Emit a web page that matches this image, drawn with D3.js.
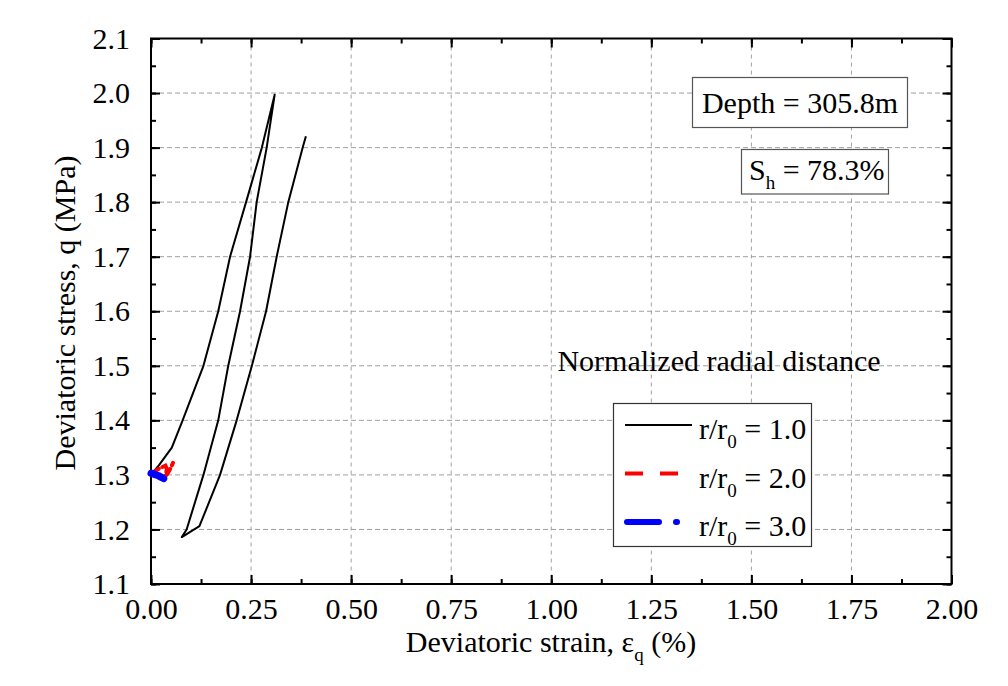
<!DOCTYPE html>
<html><head><meta charset="utf-8">
<script src="https://cdn.jsdelivr.net/npm/d3@7"></script>
<style>body{margin:0;background:#fff}svg{display:block}text{font-family:"Liberation Serif","Times New Roman",serif;fill:#000}</style>
</head><body><svg id="c" width="1008" height="686"></svg>
<script>
const xTicks = [0.00,0.25,0.50,0.75,1.00,1.25,1.50,1.75,2.00];
const yTicks = [1.1,1.2,1.3,1.4,1.5,1.6,1.7,1.8,1.9,2.0,2.1];
const blackX = [0.000,0.020,0.052,0.079,0.105,0.131,0.168,0.1975,0.2375,0.277,0.309, 0.298,0.289,0.264,0.2475,0.2225,0.193,0.168,0.131,0.089,0.077, 0.121,0.1725,0.214,0.252,0.2875,0.314,0.343,0.379,0.387];
const blackY = [1.300,1.318,1.350,1.400,1.450,1.500,1.600,1.700,1.800,1.900,1.997, 1.944,1.900,1.800,1.700,1.600,1.500,1.400,1.300,1.200,1.186, 1.206,1.300,1.400,1.500,1.600,1.700,1.800,1.900,1.921];
const redX = [0.000,0.012,0.024,0.036,0.040,0.037,0.035,0.041,0.048,0.055];
const redY = [1.300,1.308,1.313,1.317,1.311,1.302,1.297,1.302,1.311,1.322];
const blueX = [0.000,0.008,0.016,0.024,0.032,0.026,0.018,0.010,0.004];
const blueY = [1.303,1.301,1.299,1.296,1.293,1.296,1.299,1.301,1.303];
const seriesNames = ["1.0","2.0","3.0"];

const svg = d3.select("#c");
const L=151, R=951.5, T=38.5, B=584;
const x = d3.scaleLinear().domain([0,2]).range([L,R]);
const y = d3.scaleLinear().domain([1.1,2.1]).range([B,T]);

// grid
const g = svg.append("g");
g.selectAll("line.vg").data(xTicks.slice(1,-1)).join("line")
  .attr("x1",d=>x(d)).attr("x2",d=>x(d)).attr("y1",T).attr("y2",B)
  .attr("stroke","#a0a0a0").attr("stroke-width",1).attr("stroke-dasharray","4,4");
g.selectAll("line.hg").data(yTicks.slice(1,-1)).join("line")
  .attr("y1",d=>y(d)).attr("y2",d=>y(d)).attr("x1",L).attr("x2",R)
  .attr("stroke","#a0a0a0").attr("stroke-width",1).attr("stroke-dasharray","5,3");

// axes with inward ticks
const minorX = d3.range(0,2.0001,0.125), minorY = d3.range(1.1,2.1001,0.05);
function addAxis(gen, tr){
  const a = svg.append("g").attr("transform",tr).call(gen);
  a.select(".domain").remove();
  a.selectAll(".tick line").attr("stroke","#000").attr("stroke-width",2);
  return a;
}
addAxis(d3.axisBottom(x).tickValues(minorX).tickSize(-5).tickFormat(""),`translate(0,${B})`);
const bx = addAxis(d3.axisBottom(x).tickValues(xTicks).tickSize(-9).tickPadding(20).tickFormat(d3.format(".2f")),`translate(0,${B})`);
bx.selectAll("text").attr("font-size",30).attr("font-family","Liberation Serif").attr("dy","0.5em");
addAxis(d3.axisTop(x).tickValues(minorX).tickSize(-5).tickFormat(""),`translate(0,${T})`);
addAxis(d3.axisTop(x).tickValues(xTicks).tickSize(-9).tickFormat(""),`translate(0,${T})`);
addAxis(d3.axisLeft(y).tickValues(minorY).tickSize(-5).tickFormat(""),`translate(${L},0)`);
const ly = addAxis(d3.axisLeft(y).tickValues(yTicks).tickSize(-9).tickPadding(21).tickFormat(d3.format(".1f")),`translate(${L},0)`);
ly.selectAll("text").attr("font-size",30).attr("font-family","Liberation Serif");
addAxis(d3.axisRight(y).tickValues(minorY).tickSize(-5).tickFormat(""),`translate(${R},0)`);
addAxis(d3.axisRight(y).tickValues(yTicks).tickSize(-9).tickFormat(""),`translate(${R},0)`);
svg.append("rect").attr("x",L).attr("y",T).attr("width",R-L).attr("height",B-T)
  .attr("fill","none").attr("stroke","#000").attr("stroke-width",2);

// series
const line = d3.line().x(d=>x(d[0])).y(d=>y(d[1]));
const zip=(a,b)=>a.map((v,i)=>[v,b[i]]);
svg.append("path").datum(zip(blackX,blackY)).attr("d",line).attr("fill","none")
  .attr("stroke","#000").attr("stroke-width",2).attr("stroke-linejoin","round");
svg.append("path").datum(zip(redX,redY)).attr("d",line).attr("fill","none")
  .attr("stroke","#ff0000").attr("stroke-width",4).attr("stroke-dasharray","10,4").attr("stroke-linecap","round");
svg.append("path").datum(zip(blueX,blueY)).attr("d",line).attr("fill","none")
  .attr("stroke","#0000ff").attr("stroke-width",7).attr("stroke-linecap","round").attr("stroke-linejoin","round");

// axis titles
const xt = svg.append("text").attr("x",551).attr("y",652).attr("text-anchor","middle").attr("font-size",30);
xt.append("tspan").text("Deviatoric strain, ε");
xt.append("tspan").text("q").attr("font-size",19).attr("dy",9);
xt.append("tspan").text(" (%)").attr("dy",-9);
svg.append("text").attr("transform","translate(75,313) rotate(-90)").attr("text-anchor","middle")
  .attr("font-size",30).text("Deviatoric stress, q (MPa)");

// annotation boxes
svg.append("rect").attr("x",692.5).attr("y",77.5).attr("width",215).attr("height",50)
  .attr("fill","#fff").attr("stroke","#555").attr("stroke-width",1.2);
svg.append("text").attr("x",800).attr("y",113).attr("text-anchor","middle").attr("font-size",30).text("Depth = 305.8m");
svg.append("rect").attr("x",741.5).attr("y",149.5).attr("width",147).attr("height",44.5)
  .attr("fill","#fff").attr("stroke","#555").attr("stroke-width",1.2);
const sh = svg.append("text").attr("x",749).attr("y",180).attr("font-size",30);
sh.append("tspan").text("S");
sh.append("tspan").text("h").attr("font-size",19).attr("dy",9);
sh.append("tspan").text(" = 78.3%").attr("dy",-9);

svg.append("text").attr("x",719).attr("y",371).attr("text-anchor","middle").attr("font-size",30).text("Normalized radial distance");

// legend
svg.append("rect").attr("x",613.5).attr("y",403.5).attr("width",198).attr("height",143)
  .attr("fill","#fff").attr("stroke","#333").attr("stroke-width",1.2);
const legStyles = [
  {c:"#000",w:2,dash:null,cap:"butt"},
  {c:"#ff0000",w:4,dash:"18,17",cap:"butt"},
  {c:"#0000ff",w:6,dash:"32,17,1,40",cap:"round"}];
const rowsY = [425,473.5,522];
seriesNames.forEach((n,i)=>{
  const s = legStyles[i];
  const l = svg.append("line").attr("x1",i==2?627:625).attr("x2",692).attr("y1",rowsY[i]).attr("y2",rowsY[i])
    .attr("stroke",s.c).attr("stroke-width",s.w).attr("stroke-linecap",s.cap);
  if(s.dash) l.attr("stroke-dasharray",s.dash);
  const t = svg.append("text").attr("x",699).attr("y",rowsY[i]+14).attr("font-size",30);
  t.append("tspan").text("r/r");
  t.append("tspan").text("0").attr("font-size",19).attr("dy",9);
  t.append("tspan").text(" = "+n).attr("dy",-9);
});
</script></body></html>
